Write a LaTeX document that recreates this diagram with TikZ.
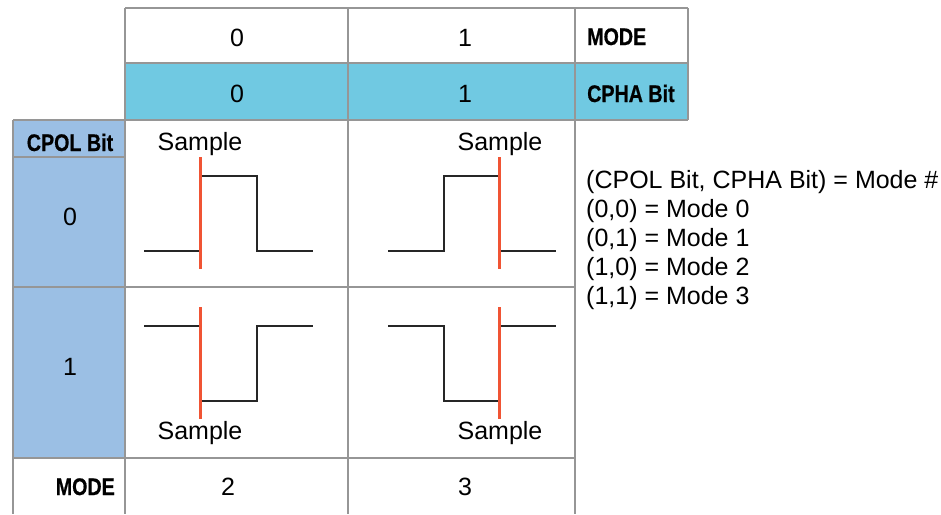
\documentclass[tikz,border=0pt]{standalone}
\usepackage{fontspec}
\setmainfont{Liberation Sans}
\newfontfamily\hdfont[FakeStretch=0.82,FakeBold=0.6]{Liberation Sans Bold}
\definecolor{gridgray}{RGB}{150,150,150}
\definecolor{cphablue}{RGB}{112,201,226}
\definecolor{cpolblue}{RGB}{155,191,228}
\definecolor{samplered}{RGB}{240,84,52}
\tikzset{
  gridline/.style={draw=gridgray, line width=2pt},
  wave/.style={draw=black!85, line width=2pt},
  sampleline/.style={draw=samplered, line width=3pt},
  txt/.style={font=\fontsize{25}{29}\selectfont, inner sep=0pt, anchor=base},
  hdtxt/.style={font=\fontsize{24}{29}\hdfont, inner sep=0pt, anchor=base west}
}
\begin{document}
\begin{tikzpicture}[x=1pt,y=-1pt]
   \useasboundingbox (0,0) rectangle (941,514);
   \fill[cphablue] (125, 63) rectangle (688,120);
   \fill[cpolblue] ( 13,120) rectangle (125,458);
   \draw[gridline] (125,  8) -- (688,  8);
   \draw[gridline] (125, 63) -- (688, 63);
   \draw[gridline] ( 13,120) -- (688,120);
   \draw[gridline] ( 13,157) -- (125,157);
   \draw[gridline] ( 13,287) -- (575,287);
   \draw[gridline] ( 13,458) -- (575,458);
   \draw[gridline] ( 13,120) -- ( 13,514);
   \draw[gridline] (125,  8) -- (125,514);
   \draw[gridline] (348,  8) -- (348,514);
   \draw[gridline] (575,  8) -- (575,514);
   \draw[gridline] (688,  8) -- (688,120);
   \node[txt] (mode0)  at (237, 46) {0};
   \node[txt] (mode1)  at (465, 46) {1};
   \node[hdtxt] (modehd) at (587, 45) {MODE};
   \node[txt] (cpha0)  at (237,102) {0};
   \node[txt] (cpha1)  at (465,102) {1};
   \node[hdtxt] (cphahd) at (587,102) {CPHA Bit};
   \node[hdtxt, anchor=base] (cpolhd) at ( 70,151) {CPOL Bit};
   \node[txt] (cpol0)  at ( 70,225) {0};
   \node[txt] (cpol1)  at ( 70,375) {1};
   \node[hdtxt, anchor=base east] (modebot) at (115,495) {MODE};
   \node[txt] (mode2)  at (228,495) {2};
   \node[txt] (mode3)  at (465,495) {3};
   \node[txt] (smpa) at (200,150) {Sample};
   \node[txt] (smpb) at (500,150) {Sample};
   \node[txt] (smpc) at (200,439) {Sample};
   \node[txt] (smpd) at (500,439) {Sample};
   \draw[wave] (144,251) -- (200,251) -- (200,176) -- (257,176) -- (257,251) -- (313,251);
   \draw[wave] (388,251) -- (444,251) -- (444,176) -- (499,176) -- (499,251) -- (556,251);
   \draw[wave] (144,326) -- (200,326) -- (200,401) -- (257,401) -- (257,326) -- (313,326);
   \draw[wave] (388,326) -- (444,326) -- (444,401) -- (499,401) -- (499,326) -- (556,326);
   \draw[sampleline] (200,157) -- (200,269);
   \draw[sampleline] (499,157) -- (499,269);
   \draw[sampleline] (200,307) -- (200,419);
   \draw[sampleline] (499,307) -- (499,419);
   \node[txt, anchor=base west, align=left] (legend) at (586,304)
     {(CPOL Bit, CPHA Bit) = Mode \#\\(0,0) = Mode 0\\(0,1) = Mode 1\\(1,0) = Mode 2\\(1,1) = Mode 3};
\end{tikzpicture}
\end{document}
